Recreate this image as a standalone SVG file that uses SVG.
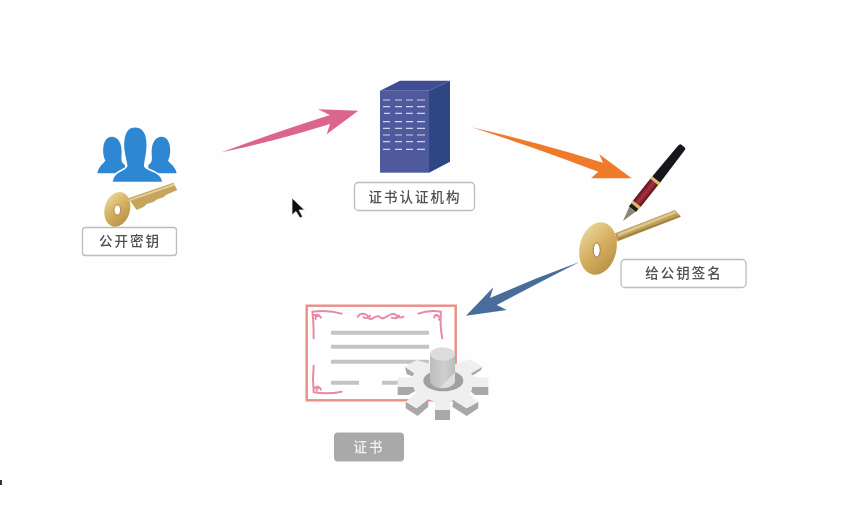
<svg xmlns="http://www.w3.org/2000/svg" width="844" height="515" viewBox="0 0 844 515">
<style>
.lbl{fill:#fff;stroke:#bcbcbc;stroke-width:1.3}
.t{font-family:"Noto Sans CJK SC","Liberation Sans",sans-serif;font-size:13.5px;font-weight:500;fill:#505050;text-anchor:middle;letter-spacing:2px}
.win{stroke:#ccd3ef;stroke-width:1.2}
.pk{fill:none;stroke:#e78aa6;stroke-width:6;stroke-linecap:round}
.ln{stroke:#c4c4c4;stroke-width:4}
.dk{fill:#a8a8a8}
</style>
<defs>
<filter id="soft" x="-5%" y="-5%" width="110%" height="110%"><feGaussianBlur stdDeviation="0.6"/></filter>
<linearGradient id="gold" x1="0" y1="0" x2="1" y2="1"><stop offset="0" stop-color="#efdfa6"/><stop offset=".5" stop-color="#d4af5f"/><stop offset="1" stop-color="#b08a40"/></linearGradient>
<linearGradient id="cyl" x1="0" y1="0" x2="1" y2="0"><stop offset="0" stop-color="#bdbdbd"/><stop offset=".6" stop-color="#cfcfcf"/><stop offset="1" stop-color="#bbb"/></linearGradient>
<linearGradient id="red" x1="0" y1="0" x2="0" y2="1"><stop offset="0" stop-color="#5a1420"/><stop offset=".5" stop-color="#a83240"/><stop offset="1" stop-color="#5a1420"/></linearGradient>
</defs>
<rect width="844" height="515" fill="#fefefe"/>
<g filter="url(#soft)">
<g id="connectors">
<path d="M221.7 152.3Q270 134 330 115L318 109.3L358.3 110.7L326.7 134.3L330 124Q272 142 221.7 152.3Z" fill="#dc6590"/>
<path d="M471.7 127.3Q540 143 603 162.7L599.3 154.3L631.7 178.3L591 178.3L598.3 171.7Q530 146 471.7 127.3Z" fill="#ee7a2b"/>
<path d="M580 261.7Q535 278 490 298L493.3 287.3L466 315.7L506.7 310L496.7 305Q540 282 580 261.7Z" fill="#486d9a"/>
</g>
<g id="node-public-key">
<g transform="translate(70 110) scale(.3333)">
<g fill="#2f87d2">
<path d="M125 80C145 80 155 100 155 125C155 145 150 155 165 165L165 190L82 190C85 170 100 160 106 152C100 140 98 125 100 112C102 92 112 80 125 80Z"/>
<path d="M275 80C255 80 245 100 245 125C245 145 250 155 235 165L235 190L320 190C317 170 300 160 294 152C300 140 302 125 300 112C298 92 288 80 275 80Z"/>
<path d="M195 50C222 50 232 75 232 105C232 130 226 150 224 168C226 182 276 180 279 218L125 218C128 180 168 182 170 168C168 150 160 130 160 105C160 75 170 50 195 50Z" stroke="#fff" stroke-width="5"/>
</g>
<path d="M175 265L310 218L322 240L288 255L280 262L262 268L250 276L230 282L222 290L200 300Z" fill="#c6a55e"/>
<path d="M180 270L312 224" stroke="#e8d49a" stroke-width="5" fill="none"/>
<ellipse cx="142" cy="298" rx="38" ry="53" fill="url(#gold)" transform="rotate(15 142 298)"/>
<ellipse cx="142" cy="300" rx="10" ry="15" fill="#fff" stroke="#8a6a2e" stroke-width="2"/>
</g>
<rect class="lbl" x="82.5" y="227.5" width="94" height="28" rx="3"/>
<text class="t" x="130" y="246">公开密钥</text>
</g>
<g id="node-ca">
<polygon points="380,90.7 400,80.7 450,80.7 429,90.7" fill="#3f4e94"/>
<polygon points="429,90.7 450,80.7 450,161.7 429,172.7" fill="#2d4684"/>
<rect x="380" y="90.7" width="49" height="82" fill="#4f5a9c"/>
<g class="win">
<path d="M383 100h7M395 100h7M406 100h7M417 100h8M383 106.7h7M395 106.7h7M406 106.7h7M417 106.7h8M384 113.3h6M395 113.3h7M406 113.3h7M417 113.3h8M383 121.7h7M395 121.7h7M406 121.7h7M417 121.7h8M383 128.3h7M395 128.3h7M406 128.3h7M417 128.3h8M383 135h7M395 135h7M406 135h7M417 135h8M383 141.7h7M395 141.7h7M406 141.7h7M417 141.7h8M383 149.3h7M395 149.3h7M406 149.3h7M417 149.3h8"/>
</g>
<rect class="lbl" x="354.5" y="182.5" width="120" height="28" rx="4"/>
<text class="t" x="415" y="202">证书认证机构</text>
</g>
<g id="node-sign">
<g transform="translate(683 146) rotate(128.66)">
<path d="M0 -2Q0 -4 3 -4L43 -5L43 5L3 4Q0 4 0 2Z" fill="#17171c"/>
<rect x="43" y="-5.3" width="3" height="10.6" fill="#d8b860"/>
<rect x="46" y="-5" width="28" height="10" fill="url(#red)"/>
<rect x="74" y="-5" width="3" height="10" fill="#d8b860"/>
<rect x="77" y="-4.5" width="4" height="9" fill="#1c1c1c"/>
<path d="M81 -4L96 0L81 4Z" fill="#8c8676"/>
</g>
<polygon points="615,233.3 675,210 681,216.7 616.7,241.7" fill="#bf9f5a"/>
<path d="M618 235L676 212" stroke="#dcc78e" stroke-width="2.5" fill="none"/>
<path d="M618 239.5L680 216" stroke="#9c7f3e" stroke-width="1.5" fill="none"/>
<ellipse cx="598" cy="248.5" rx="18.5" ry="26.5" fill="url(#gold)" transform="rotate(12 598 248.5)"/>
<ellipse cx="596.7" cy="250" rx="3.5" ry="7" fill="#fff" stroke="#a07c38"/>
<rect class="lbl" x="621" y="259.5" width="125" height="28" rx="4"/>
<text class="t" x="684" y="278">给公钥签名</text>
</g>
<g id="node-cert">
<rect x="306.7" y="305.7" width="149" height="94.6" fill="#fff" stroke="#ea8f85" stroke-width="2.4"/>
<g transform="translate(295 295) scale(.3333)">
<path class="pk" d="M52 50Q56 80 56 130M52 50Q100 44 140 56M58 60Q72 56 78 68M62 72Q58 64 72 62M438 50Q434 90 442 130M438 50Q400 44 370 56M428 60Q418 58 418 68M432 74Q440 66 426 62M56 212Q52 250 56 292M56 292Q100 298 140 290M60 278Q72 270 78 284M66 286Q60 280 72 278"/>
<path class="pk" d="M188 65C196 54 215 52 222 70C232 80 240 56 255 66C265 80 280 56 295 56C310 60 312 74 325 65M205 66Q218 74 225 62M290 68Q304 74 312 62"/>
</g>
<path class="ln" d="M331 332.7H429M331 346.7H429M331 361.7H429M331 382.7H359M382 382.7H398"/>
<g transform="translate(395 340) scale(.3333)">
<polygon class="dk" points="30,80 58,100 55,110 35,102"/>
<polygon class="dk" points="228,100 262,80 258,90 228,110"/>
<polygon class="dk" points="8,140 55,140 62,152 40,165 8,165"/>
<polygon class="dk" points="232,140 280,140 280,165 240,165 228,155"/>
<polygon class="dk" points="120,205 165,205 165,240 120,240"/>
<polygon class="dk" points="32,185 65,205 100,178 100,200 68,228 32,205"/>
<polygon class="dk" points="175,180 215,205 250,185 250,205 215,228 172,200"/>
<polygon fill="#efefef" points="30,80 65,60 105,72 180,72 225,58 262,80 228,100 240,112 280,112 280,140 232,140 225,165 250,185 215,205 175,180 165,185 165,210 120,210 120,185 100,178 65,205 32,185 62,160 55,140 8,140 8,112 50,112 58,100"/>
<ellipse cx="145" cy="122" rx="60" ry="32" fill="#a0a0a0"/>
<path d="M105 42V122C105 135 125 145 143 145C162 145 180 135 180 122V42Z" fill="url(#cyl)"/>
<path d="M135 143C150 125 170 110 180 95V122C180 135 160 145 135 143Z" fill="#dedede"/>
<ellipse cx="143" cy="42" rx="37" ry="20" fill="#dcdcdc"/>
</g>
<rect x="334" y="432.5" width="70" height="29" rx="4" fill="#a9a9a9"/>
<text class="t" x="369" y="452" style="fill:#f2f2f2">证书</text>
</g>
<path d="M292 198L292 215L296 211.5L300 218L302.5 216.5L299 210L304.5 210Z" fill="#111" stroke="#e8e8e8" stroke-width=".8"/>
<rect x="0" y="480" width="2" height="5" fill="#333"/>
</g>
</svg>
